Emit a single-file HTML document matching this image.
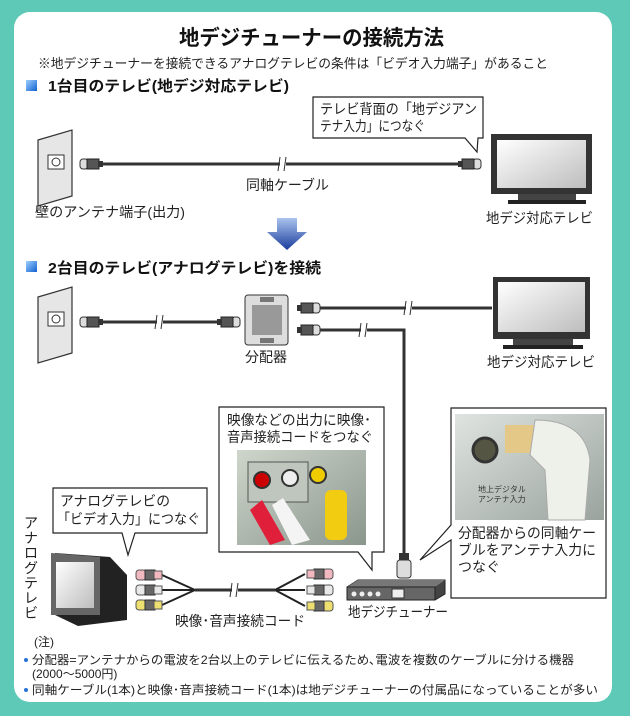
<!DOCTYPE html>
<html><head><meta charset="utf-8"><style>
html,body{margin:0;padding:0;background:#5ec9b7;}
svg{display:block;font-family:"Liberation Sans","Noto Sans CJK JP",sans-serif;}
</style></head><body>
<svg width="630" height="716" viewBox="0 0 630 716" xmlns="http://www.w3.org/2000/svg">
<defs>
<linearGradient id="arr" x1="0" y1="0" x2="0" y2="1"><stop offset="0" stop-color="#aac4ee"/><stop offset="1" stop-color="#1a3c9c"/></linearGradient>
<linearGradient id="scr" x1="0" y1="0" x2="1" y2="1"><stop offset="0" stop-color="#ffffff"/><stop offset="1" stop-color="#bdbdbd"/></linearGradient>
<linearGradient id="bl" x1="0" y1="0" x2="1" y2="1"><stop offset="0" stop-color="#9fd0ff"/><stop offset="1" stop-color="#1060d0"/></linearGradient>
<linearGradient id="ph1" x1="0" y1="0" x2="1" y2="1"><stop offset="0" stop-color="#cfd6cc"/><stop offset="1" stop-color="#8a968c"/></linearGradient>
<linearGradient id="ph2" x1="0" y1="0" x2="1" y2="1"><stop offset="0" stop-color="#dfe4e0"/><stop offset="1" stop-color="#9aa39e"/></linearGradient>
<g id="plate">
<path d="M38 140 L72 130 L72 196 L38 206 Z" fill="#e6e6e6" stroke="#333" stroke-width="1.2"/>
<rect x="48" y="155" width="16" height="14" fill="#fff" stroke="#333"/>
<circle cx="56" cy="162" r="4" fill="none" stroke="#333"/>
</g>
<g id="conn">
<rect x="0" y="-5" width="8" height="10" rx="3" fill="#ddd" stroke="#333"/>
<rect x="7" y="-5" width="12" height="10" fill="#555" stroke="#222"/>
<rect x="18" y="-3" width="5" height="6" fill="#333"/>
</g>
<g id="plug">
<rect x="0" y="-5" width="10" height="10" rx="3" fill="currentColor" stroke="#555"/>
<rect x="9" y="-5" width="10" height="10" fill="#666" stroke="#333"/>
<rect x="18" y="-4" width="8" height="8" fill="currentColor" stroke="#555"/>
</g>
</defs>
<rect x="14" y="12" width="598" height="690" rx="16" fill="#fff"/>
<text x="179" y="45" font-size="21" font-weight="bold" fill="#111" textLength="265" lengthAdjust="spacingAndGlyphs">地デジチューナーの接続方法</text>
<text x="38" y="68" font-size="13" fill="#222" textLength="510" lengthAdjust="spacingAndGlyphs">※地デジチューナーを接続できるアナログテレビの条件は「ビデオ入力端子」があること</text>
<rect x="26" y="80" width="11" height="11" fill="url(#bl)"/>
<text x="48" y="91" font-size="15" font-weight="bold" fill="#111" textLength="241" lengthAdjust="spacingAndGlyphs">1台目のテレビ(地デジ対応テレビ)</text>
<!-- section1 -->
<use href="#plate"/>
<line x1="100" y1="164" x2="460" y2="164" stroke="#333" stroke-width="3"/>
<rect x="280" y="156" width="6" height="16" fill="#fff"/>
<line x1="280" y1="157" x2="278" y2="171" stroke="#333"/><line x1="286" y1="157" x2="284" y2="171" stroke="#333"/>
<use href="#conn" transform="translate(80,164)"/>
<use href="#conn" transform="translate(481,164) scale(-1,1)"/>
<text x="246" y="190" font-size="14" fill="#222" textLength="83" lengthAdjust="spacingAndGlyphs">同軸ケーブル</text>
<text x="35" y="217" font-size="14" fill="#222" textLength="150" lengthAdjust="spacingAndGlyphs">壁のアンテナ端子(出力)</text>
<path d="M313 97 L483 97 L483 138 L478 138 L477 152 L465 138 L313 138 Z" fill="#fff" stroke="#222" stroke-width="1.2"/>
<text x="320" y="114" font-size="14" fill="#222" textLength="157" lengthAdjust="spacingAndGlyphs">テレビ背面の「地デジアン</text>
<text x="320" y="131" font-size="14" fill="#222" textLength="105" lengthAdjust="spacingAndGlyphs">テナ入力」につなぐ</text>
<rect x="491" y="134" width="101" height="60" fill="#333"/>
<rect x="497" y="140" width="89" height="48" fill="url(#scr)"/>
<rect x="518" y="194" width="58" height="7" fill="#444"/><rect x="508" y="200" width="78" height="4" fill="#222"/>
<text x="486" y="223" font-size="14" fill="#222" textLength="107" lengthAdjust="spacingAndGlyphs">地デジ対応テレビ</text>
<path d="M277 218 L297 218 L297 232 L307 232 L287 250 L267 232 L277 232 Z" fill="url(#arr)"/>
<rect x="26" y="261" width="11" height="11" fill="url(#bl)"/>
<text x="48" y="273" font-size="15" font-weight="bold" fill="#111" textLength="273" lengthAdjust="spacingAndGlyphs">2台目のテレビ(アナログテレビ)を接続</text>
<!-- section2 -->
<use href="#plate" transform="translate(0,157)"/>
<line x1="100" y1="322" x2="225" y2="322" stroke="#333" stroke-width="3"/>
<rect x="157" y="314" width="6" height="16" fill="#fff"/>
<line x1="157" y1="315" x2="155" y2="329" stroke="#333"/><line x1="163" y1="315" x2="161" y2="329" stroke="#333"/>
<use href="#conn" transform="translate(80,322)"/>
<use href="#conn" transform="translate(240,322) scale(-1,1)"/>
<rect x="245" y="295" width="43" height="50" rx="3" fill="#ddd" stroke="#333"/>
<rect x="252" y="305" width="30" height="30" fill="#999"/>
<rect x="260" y="297" width="14" height="5" fill="#777"/><rect x="260" y="338" width="14" height="5" fill="#777"/>
<line x1="315" y1="308" x2="492" y2="308" stroke="#333" stroke-width="3"/>
<path d="M315 330 L404 330 L404 557" fill="none" stroke="#333" stroke-width="3"/>
<rect x="406" y="300" width="6" height="16" fill="#fff"/>
<line x1="406" y1="301" x2="404" y2="315" stroke="#333"/><line x1="412" y1="301" x2="410" y2="315" stroke="#333"/>
<rect x="361" y="322" width="6" height="16" fill="#fff"/>
<line x1="361" y1="323" x2="359" y2="337" stroke="#333"/><line x1="367" y1="323" x2="365" y2="337" stroke="#333"/>
<use href="#conn" transform="translate(320,308) scale(-1,1)"/>
<use href="#conn" transform="translate(320,330) scale(-1,1)"/>
<text x="245" y="362" font-size="14" fill="#222" textLength="42" lengthAdjust="spacingAndGlyphs">分配器</text>
<rect x="493" y="277" width="97" height="62" fill="#333"/>
<rect x="498" y="282" width="87" height="50" fill="url(#scr)"/>
<rect x="513" y="339" width="60" height="7" fill="#444"/><rect x="503" y="345" width="80" height="4" fill="#222"/>
<text x="487" y="367" font-size="14" fill="#222" textLength="108" lengthAdjust="spacingAndGlyphs">地デジ対応テレビ</text>
<!-- bubble 2 -->
<path d="M219 407 L384 407 L384 552 L372 552 L372 570 L358 552 L219 552 Z" fill="#fff" stroke="#222" stroke-width="1.2"/>
<text x="227" y="425" font-size="14" fill="#222" textLength="144" lengthAdjust="spacingAndGlyphs">映像などの出力に映像･</text>
<text x="227" y="442" font-size="14" fill="#222" textLength="146" lengthAdjust="spacingAndGlyphs">音声接続コードをつなぐ</text>
<rect x="237" y="450" width="129" height="95" fill="url(#ph1)"/>
<rect x="248" y="462" width="60" height="40" fill="#bfc6bd" stroke="#555"/>
<circle cx="262" cy="480" r="8" fill="#c00" stroke="#333" stroke-width="2"/>
<circle cx="290" cy="478" r="8" fill="#eee" stroke="#333" stroke-width="2"/>
<circle cx="318" cy="475" r="8" fill="#ec0" stroke="#333" stroke-width="2"/>
<path d="M262 500 L285 540 L270 545 L250 510 Z" fill="#e0203a"/>
<path d="M283 498 L310 540 L292 545 L272 505 Z" fill="#f4f4f4"/>
<rect x="325" y="490" width="22" height="50" rx="6" fill="#f2cc10"/>
<!-- bubble 3 -->
<path d="M451 408 L606 408 L606 598 L451 598 L451 540 L420 560 L451 525 Z" fill="#fff" stroke="#222" stroke-width="1.2"/>
<rect x="455" y="414" width="149" height="106" fill="url(#ph2)"/>
<circle cx="485" cy="450" r="12" fill="#554" stroke="#333" stroke-width="3"/>
<rect x="505" y="425" width="30" height="28" fill="#e3c888"/>
<path d="M535 420 Q585 420 590 460 L585 520 L548 520 L545 470 L530 455 Z" fill="#eef0ea" stroke="#aaa"/>
<text x="478" y="492" font-size="8" fill="#333">地上デジタル</text>
<text x="478" y="502" font-size="8" fill="#333">アンテナ入力</text>
<text x="458" y="538" font-size="14" fill="#222" textLength="138" lengthAdjust="spacingAndGlyphs">分配器からの同軸ケー</text>
<text x="458" y="555" font-size="14" fill="#222" textLength="138" lengthAdjust="spacingAndGlyphs">ブルをアンテナ入力に</text>
<text x="458" y="572" font-size="14" fill="#222" textLength="42" lengthAdjust="spacingAndGlyphs">つなぐ</text>
<!-- vertical connector -->
<rect x="399" y="553" width="10" height="8" fill="#333"/>
<rect x="397" y="560" width="14" height="18" rx="3" fill="#ddd" stroke="#333"/>
<!-- tuner -->
<path d="M347 587 L358 580 L445 580 L445 594 L435 600 L347 600 Z" fill="#444" stroke="#222"/>
<path d="M347 587 L358 580 L445 580 L435 587 Z" fill="#777"/>
<rect x="347" y="587" width="88" height="13" fill="#666" stroke="#222"/>
<circle cx="354" cy="594" r="2.5" fill="#eee"/><circle cx="362" cy="594" r="2.5" fill="#eee"/><circle cx="370" cy="594" r="2.5" fill="#eee"/><circle cx="378" cy="594" r="2.5" fill="#eee"/>
<rect x="392" y="589" width="12" height="9" fill="#eee" stroke="#333"/>
<text x="348" y="617" font-size="14" fill="#222" textLength="100" lengthAdjust="spacingAndGlyphs">地デジチューナー</text>
<!-- analog TV -->
<path d="M55 553 L110 557 L127 575 L127 620 L78 626 L55 615 Z" fill="#222"/>
<path d="M51 553 L100 557 L100 615 L51 615 Z" fill="#666"/>
<rect x="56" y="562" width="38" height="46" fill="url(#scr)"/>
<text font-size="14" fill="#222"><tspan x="24" y="528">ア</tspan><tspan x="24" y="543">ナ</tspan><tspan x="24" y="558">ロ</tspan><tspan x="24" y="573">グ</tspan><tspan x="24" y="588">テ</tspan><tspan x="24" y="603">レ</tspan><tspan x="24" y="618">ビ</tspan></text>
<path d="M53 488 L207 488 L207 533 L135 533 L128 555 L122 533 L53 533 Z" fill="#fff" stroke="#222" stroke-width="1.2"/>
<text x="60" y="506" font-size="14" fill="#222" textLength="110" lengthAdjust="spacingAndGlyphs">アナログテレビの</text>
<text x="57" y="524" font-size="14" fill="#222" textLength="143" lengthAdjust="spacingAndGlyphs">「ビデオ入力」につなぐ</text>
<!-- AV cord -->
<g stroke="#222" stroke-width="2" fill="none">
<path d="M162 575 L195 590 M162 590 L195 590 M162 605 L195 590"/>
<path d="M305 574 L275 590 M305 590 L275 590 M305 606 L275 590"/>
</g>
<line x1="195" y1="590" x2="275" y2="590" stroke="#333" stroke-width="3"/>
<rect x="232" y="582" width="6" height="16" fill="#fff"/>
<line x1="232" y1="583" x2="230" y2="597" stroke="#333"/><line x1="238" y1="583" x2="236" y2="597" stroke="#333"/>
<use href="#plug" transform="translate(136,575)" color="#f2b8c0"/>
<use href="#plug" transform="translate(136,590)" color="#e8e8e8"/>
<use href="#plug" transform="translate(136,605)" color="#eee070"/>
<use href="#plug" transform="translate(333,574) scale(-1,1)" color="#f2b8c0"/>
<use href="#plug" transform="translate(333,590) scale(-1,1)" color="#e8e8e8"/>
<use href="#plug" transform="translate(333,606) scale(-1,1)" color="#eee070"/>
<text x="175" y="626" font-size="14" fill="#222" textLength="130" lengthAdjust="spacingAndGlyphs">映像･音声接続コード</text>
<!-- notes -->
<text x="34" y="646" font-size="12" fill="#222">(注)</text>
<circle cx="26" cy="660" r="2" fill="#2a72d8"/>
<text x="32" y="664" font-size="12" fill="#222" textLength="542" lengthAdjust="spacingAndGlyphs">分配器=アンテナからの電波を2台以上のテレビに伝えるため､電波を複数のケーブルに分ける機器</text>
<text x="32" y="678" font-size="12" fill="#222">(2000～5000円)</text>
<circle cx="26" cy="690" r="2" fill="#2a72d8"/>
<text x="32" y="694" font-size="12" fill="#222" textLength="566" lengthAdjust="spacingAndGlyphs">同軸ケーブル(1本)と映像･音声接続コード(1本)は地デジチューナーの付属品になっていることが多い</text>
</svg>
</body></html>
